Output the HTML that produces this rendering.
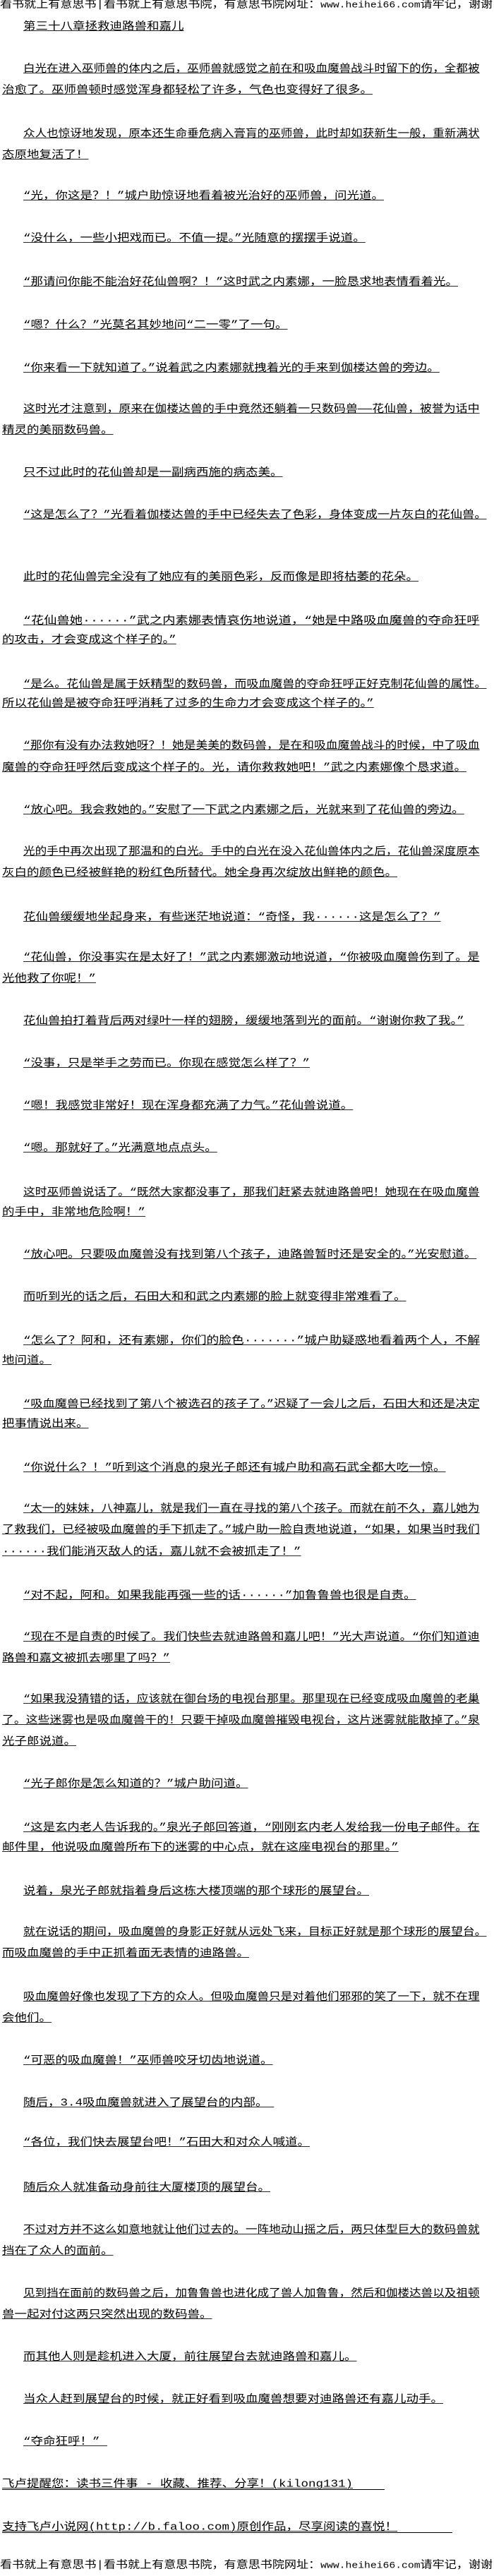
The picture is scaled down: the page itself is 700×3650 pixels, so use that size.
<!DOCTYPE html>
<html>
<head>
<meta charset="utf-8">
<style>
html,body{margin:0;padding:0;background:#fff;}
body{width:700px;height:3650px;position:relative;overflow:hidden;}
.l{position:absolute;left:33px;height:20px;line-height:20px;white-space:nowrap;
 font-family:"Liberation Mono","Noto Sans CJK SC",monospace;font-size:17.5px;color:#000;
 text-decoration:underline;text-decoration-thickness:1px;text-underline-offset:2px;
 transform:scaleY(0.84);transform-origin:left center;}
.n{left:3px;}
.h{left:0;text-decoration:none;font-size:17.4px;}
.h .m{font-size:15px;}
.u{position:absolute;height:1px;background:#000;}
</style>
</head>
<body>
<div class="l h f" style="top:-2px">看书就上有意思书|看书就上有意思书院，有意思书院网址：<span class="m">www.heihei66.com</span>请牢记，谢谢</div>
<div class="l" style="top:28px">第三十八章拯救迪路兽和嘉儿</div>
<div class="l f" style="top:88px">白光在进入巫师兽的体内之后，巫师兽就感觉之前在和吸血魔兽战斗时留下的伤，全都被</div>
<div class="l n" style="top:118px">治愈了。巫师兽顿时感觉浑身都轻松了许多，气色也变得好了很多。</div>
<div class="l f" style="top:180px">众人也惊讶地发现，原本还生命垂危病入膏肓的巫师兽，此时却如获新生一般，重新满状</div>
<div class="l n" style="top:210px">态原地复活了！</div>
<div class="l" style="top:268px">“光，你这是？！”城户助惊讶地看着被光治好的巫师兽，问光道。</div>
<div class="l" style="top:328px">“没什么，一些小把戏而已。不值一提。”光随意的摆摆手说道。</div>
<div class="l" style="top:390px">“那请问你能不能治好花仙兽啊？！”这时武之内素娜，一脸恳求地表情看着光。</div>
<div class="l" style="top:451px">“嗯？什么？”光莫名其妙地问“二一零”了一句。</div>
<div class="l" style="top:512px">“你来看一下就知道了。”说着武之内素娜就拽着光的手来到伽楼达兽的旁边。</div>
<div class="l f" style="top:570px">这时光才注意到，原来在伽楼达兽的手中竟然还躺着一只数码兽——花仙兽，被誉为话中</div>
<div class="l n" style="top:600px">精灵的美丽数码兽。</div>
<div class="l" style="top:660px">只不过此时的花仙兽却是一副病西施的病态美。</div>
<div class="l" style="top:720px">“这是怎么了？”光看着伽楼达兽的手中已经失去了色彩，身体变成一片灰白的花仙兽。</div>
<div class="l" style="top:808px">此时的花仙兽完全没有了她应有的美丽色彩，反而像是即将枯萎的花朵。</div>
<div class="l f" style="top:870px">“花仙兽她······”武之内素娜表情哀伤地说道，“她是中路吸血魔兽的夺命狂呼</div>
<div class="l n" style="top:897px">的攻击，才会变成这个样子的。”</div>
<div class="l" style="top:960px">“是么。花仙兽是属于妖精型的数码兽，而吸血魔兽的夺命狂呼正好克制花仙兽的属性。</div>
<div class="l n" style="top:987px">所以花仙兽是被夺命狂呼消耗了过多的生命力才会变成这个样子的。”</div>
<div class="l f" style="top:1047px">“那你有没有办法救她呀？！她是美美的数码兽，是在和吸血魔兽战斗的时候，中了吸血</div>
<div class="l n" style="top:1078px">魔兽的夺命狂呼然后变成这个样子的。光，请你救救她吧！”武之内素娜像个恳求道。</div>
<div class="l" style="top:1138px">“放心吧。我会救她的。”安慰了一下武之内素娜之后，光就来到了花仙兽的旁边。</div>
<div class="l f" style="top:1197px">光的手中再次出现了那温和的白光。手中的白光在没入花仙兽体内之后，花仙兽深度原本</div>
<div class="l n" style="top:1227px">灰白的颜色已经被鲜艳的粉红色所替代。她全身再次绽放出鲜艳的颜色。</div>
<div class="l" style="top:1290px">花仙兽缓缓地坐起身来，有些迷茫地说道：“奇怪，我······这是怎么了？”</div>
<div class="l f" style="top:1347px">“花仙兽，你没事实在是太好了！”武之内素娜激动地说道，“你被吸血魔兽伤到了。是</div>
<div class="l n" style="top:1377px">光他救了你呢！”</div>
<div class="l" style="top:1437px">花仙兽拍打着背后两对绿叶一样的翅膀，缓缓地落到光的面前。“谢谢你救了我。”</div>
<div class="l" style="top:1497px">“没事，只是举手之劳而已。你现在感觉怎么样了？”</div>
<div class="l" style="top:1557px">“嗯！我感觉非常好！现在浑身都充满了力气。”花仙兽说道。</div>
<div class="l" style="top:1617px">“嗯。那就好了。”光满意地点点头。</div>
<div class="l f" style="top:1680px">这时巫师兽说话了。“既然大家都没事了，那我们赶紧去就迪路兽吧！她现在在吸血魔兽</div>
<div class="l n" style="top:1708px">的手中，非常地危险啊！”</div>
<div class="l" style="top:1768px">“放心吧。只要吸血魔兽没有找到第八个孩子，迪路兽暂时还是安全的。”光安慰道。</div>
<div class="l" style="top:1828px">而听到光的话之后，石田大和和武之内素娜的脸上就变得非常难看了。</div>
<div class="l f" style="top:1890px">“怎么了？阿和，还有素娜，你们的脸色·······”城户助疑惑地看着两个人，不解</div>
<div class="l n" style="top:1918px">地问道。</div>
<div class="l f" style="top:1980px">“吸血魔兽已经找到了第八个被选召的孩子了。”迟疑了一会儿之后，石田大和还是决定</div>
<div class="l n" style="top:2008px">把事情说出来。</div>
<div class="l" style="top:2070px">“你说什么？！”听到这个消息的泉光子郎还有城户助和高石武全都大吃一惊。</div>
<div class="l f" style="top:2128px">“太一的妹妹，八神嘉儿，就是我们一直在寻找的第八个孩子。而就在前不久，嘉儿她为</div>
<div class="l n f" style="top:2158px">了救我们，已经被吸血魔兽的手下抓走了。”城户助一脸自责地说道，“如果，如果当时我们</div>
<div class="l n" style="top:2189px">······我们能消灭敌人的话，嘉儿就不会被抓走了！”</div>
<div class="l" style="top:2251px">“对不起，阿和。如果我能再强一些的话······”加鲁鲁兽也很是自责。</div>
<div class="l f" style="top:2310px">“现在不是自责的时候了。我们快些去就迪路兽和嘉儿吧！”光大声说道。“你们知道迪</div>
<div class="l n" style="top:2340px">路兽和嘉文被抓去哪里了吗？”</div>
<div class="l f" style="top:2398px">“如果我没猜错的话，应该就在御台场的电视台那里。那里现在已经变成吸血魔兽的老巢</div>
<div class="l n f" style="top:2428px">了。这些迷雾也是吸血魔兽干的！只要干掉吸血魔兽摧毁电视台，这片迷雾就能散掉了。”泉</div>
<div class="l n" style="top:2458px">光子郎说道。</div>
<div class="l" style="top:2518px">“光子郎你是怎么知道的？”城户助问道。</div>
<div class="l f" style="top:2580px">“这是玄内老人告诉我的。”泉光子郎回答道，“刚刚玄内老人发给我一份电子邮件。在</div>
<div class="l n" style="top:2608px">邮件里，他说吸血魔兽所布下的迷雾的中心点，就在这座电视台的那里。”</div>
<div class="l" style="top:2670px">说着，泉光子郎就指着身后这栋大楼顶端的那个球形的展望台。</div>
<div class="l" style="top:2728px">就在说话的期间，吸血魔兽的身影正好就从远处飞来，目标正好就是那个球形的展望台。</div>
<div class="l n" style="top:2758px">而吸血魔兽的手中正抓着面无表情的迪路兽。</div>
<div class="l f" style="top:2820px">吸血魔兽好像也发现了下方的众人。但吸血魔兽只是对着他们邪邪的笑了一下，就不在理</div>
<div class="l n" style="top:2850px">会他们。</div>
<div class="l" style="top:2910px">“可恶的吸血魔兽！”巫师兽咬牙切齿地说道。</div>
<div class="l" style="top:2970px">随后，3.4吸血魔兽就进入了展望台的内部。　</div>
<div class="l" style="top:3026px">“各位，我们快去展望台吧！”石田大和对众人喊道。</div>
<div class="l" style="top:3090px">随后众人就准备动身前往大厦楼顶的展望台。</div>
<div class="l f" style="top:3150px">不过对方并不这么如意地就让他们过去的。一阵地动山摇之后，两只体型巨大的数码兽就</div>
<div class="l n" style="top:3180px">挡在了众人的面前。</div>
<div class="l f" style="top:3240px">见到挡在面前的数码兽之后，加鲁鲁兽也进化成了兽人加鲁鲁，然后和伽楼达兽以及祖顿</div>
<div class="l n" style="top:3270px">兽一起对付这两只突然出现的数码兽。</div>
<div class="l" style="top:3330px">而其他人则是趁机进入大厦，前往展望台去就迪路兽和嘉儿。</div>
<div class="l" style="top:3390px">当众人赶到展望台的时候，就正好看到吸血魔兽想要对迪路兽还有嘉儿动手。</div>
<div class="l" style="top:3450px">“夺命狂呼！”&nbsp;</div>
<div class="l n" style="top:3510px">飞卢提醒您：读书三件事 - 收藏、推荐、分享！(kilong131)</div>
<div class="u" style="left:3px;width:542px;top:3527px"></div>
<div class="l n" style="top:3571px">支持飞卢小说网(http://b.faloo.com)原创作品，尽享阅读的喜悦！</div>
<div class="u" style="left:3px;width:638px;top:3588px"></div>
<div class="l h f" style="top:3626px">看书就上有意思书|看书就上有意思书院，有意思书院网址：<span class="m">www.heihei66.com</span>请牢记，谢谢</div>
<script>
(function(){
  var els=document.querySelectorAll('.l');
  for(var i=0;i<els.length;i++){
    var e=els[i];
    var left=e.offsetLeft;
    var w=e.scrollWidth;
    var target;
    if(e.classList.contains('f')) target=(e.classList.contains('h')?698:680)-left;
    else target=Math.min(w,690-left);
    if(w>0){
      var sx=target/w;
      e.style.transform='scale('+sx+',0.84)';
    }
  }
})();
</script>
</body>
</html>
